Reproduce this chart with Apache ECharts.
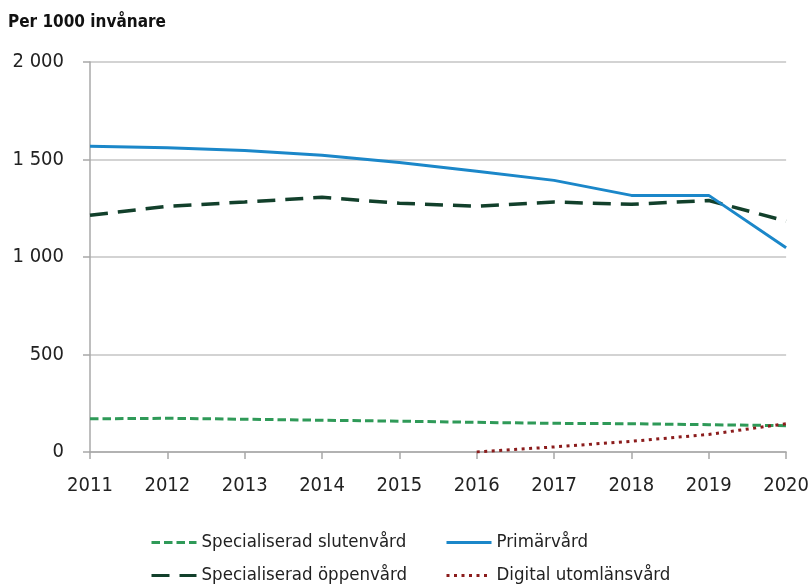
<!DOCTYPE html>
<html>
<head>
<meta charset="utf-8">
<script src="https://cdn.jsdelivr.net/npm/echarts@6/dist/echarts.min.js"></script>
<style>
  html, body { margin: 0; padding: 0; background: #fff; }
  #chart { width: 812px; height: 584px; }
</style>
</head>
<body>
<div id="chart"></div>
<script>
const years = ['2011', '2012', '2013', '2014', '2015', '2016', '2017', '2018', '2019', '2020']
const slutenvard = [170, 173, 168, 163, 158, 152, 147, 145, 140, 135]
const primarvard = [1568, 1560, 1546, 1522, 1485, 1440, 1393, 1316, 1316, 1048]
const oppenvard = [1214, 1260, 1282, 1306, 1276, 1260, 1282, 1270, 1290, 1184]
const digital = [null, null, null, null, null, 0, 26, 55, 90, 145]
const legendNames = ['Specialiserad slutenvård', 'Primärvård', 'Specialiserad öppenvård', 'Digital utomlänsvård']

const font = '"DejaVu Sans Condensed", "Liberation Sans Narrow", sans-serif'

function formatThousands (v) {
  return String(v).replace(/\B(?=(\d{3})+(?!\d))/g, ' ')
}

// one legend per item so the 2x2 layout is fixed
const legendPos = [[150, 533], [445, 533], [150, 566], [445, 566]]
const legends = legendNames.map((name, i) => ({
  left: legendPos[i][0],
  top: legendPos[i][1],
  padding: 0,
  itemWidth: 45,
  itemHeight: 18,
  itemGap: 8,
  itemStyle: { opacity: 0 },
  lineStyle: { width: 3 },
  textStyle: { fontFamily: font, fontSize: 18.5, color: '#222' },
  data: [name]
}))

const chart = echarts.init(document.getElementById('chart'))

chart.setOption({
  animation: false,
  textStyle: { fontFamily: font },
  title: {
    text: 'Per 1000 invånare',
    left: 3,
    top: 9,
    textStyle: { fontFamily: font, fontSize: 17, fontWeight: 'bold', color: '#111' }
  },
  grid: { left: 90, right: 23, top: 62, bottom: 132 },
  legend: legends,
  xAxis: {
    type: 'category',
    data: years,
    boundaryGap: false,
    axisLine: { lineStyle: { color: '#a8a8a8', width: 1.5 } },
    axisTick: { show: true, length: 7, lineStyle: { color: '#a8a8a8', width: 1.5 } },
    axisLabel: { fontSize: 20, color: '#222', margin: 24, fontFamily: font }
  },
  yAxis: {
    type: 'value',
    min: 0,
    max: 2000,
    interval: 500,
    axisLine: { show: true, lineStyle: { color: '#a8a8a8', width: 1.5 } },
    axisTick: { show: true, length: 7, lineStyle: { color: '#a8a8a8', width: 1.5 } },
    splitLine: { lineStyle: { color: '#c4c4c4', width: 1.5 } },
    axisLabel: { fontSize: 20, color: '#222', margin: 26, fontFamily: font, formatter: formatThousands }
  },
  series: [{
    name: 'Specialiserad slutenvård',
    type: 'line',
    data: slutenvard,
    symbol: 'none',
    itemStyle: { color: '#2f9a58' },
    lineStyle: { color: '#2f9a58', width: 3, type: [8.5, 4] }
  }, {
    name: 'Specialiserad öppenvård',
    type: 'line',
    data: oppenvard,
    symbol: 'none',
    itemStyle: { color: '#12402b' },
    lineStyle: { color: '#12402b', width: 3.5, type: [18, 10] }
  }, {
    name: 'Primärvård',
    type: 'line',
    data: primarvard,
    symbol: 'none',
    itemStyle: { color: '#1b87c9' },
    lineStyle: { color: '#1b87c9', width: 3 }
  }, {
    name: 'Digital utomlänsvård',
    type: 'line',
    data: digital,
    symbol: 'none',
    itemStyle: { color: '#8b1c1c' },
    lineStyle: { color: '#8b1c1c', width: 3, type: [3, 4.5] }
  }]
})
</script>
</body>
</html>
